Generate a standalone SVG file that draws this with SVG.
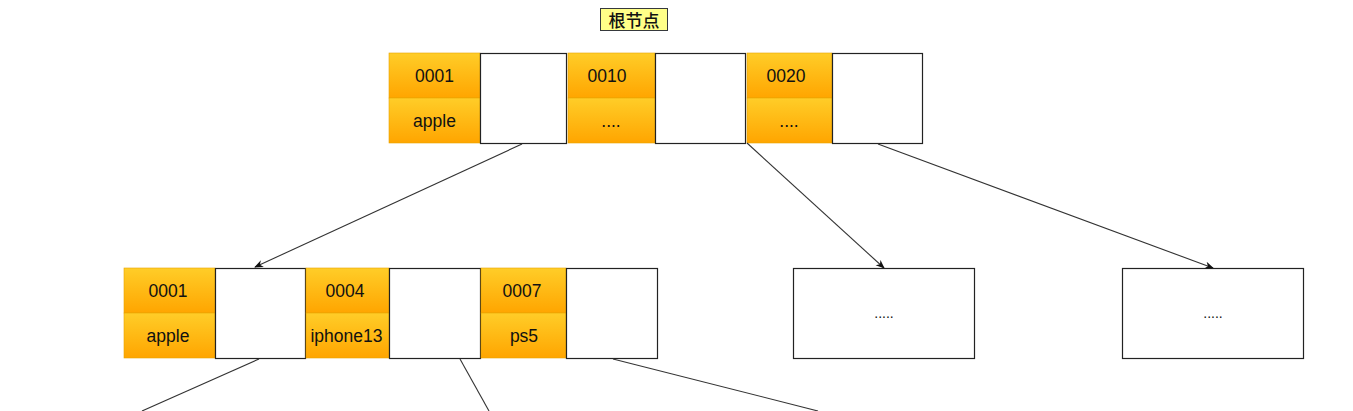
<svg xmlns="http://www.w3.org/2000/svg" width="1353" height="411" viewBox="0 0 1353 411">
<style>
.k{fill:url(#og);stroke:#e6a300;stroke-width:0.6}
.w{fill:#fff;stroke:#222;stroke-width:1.2}
.t{font-family:"Liberation Sans",Arial,sans-serif;font-size:17.5px;fill:#111;text-anchor:middle;dominant-baseline:central}
.c{stroke:#333;stroke-width:1.1;fill:none}
</style>
<defs>
<linearGradient id="og" x1="0" y1="0" x2="0" y2="1">
<stop offset="0" stop-color="#ffcd28"/>
<stop offset="1" stop-color="#ffa500"/>
</linearGradient>
<marker id="ar" viewBox="0 0 10 10" refX="9" refY="5" markerWidth="9" markerHeight="9" markerUnits="userSpaceOnUse" orient="auto">
<path d="M0,1 L10,5 L0,9 L3,5 Z" fill="#111"/>
</marker>
</defs>
<rect width="1353" height="411" fill="#fff"/>
<g id="label-root">
<rect x="600.5" y="8.5" width="67" height="22" fill="#ffff88" stroke="#36393d" stroke-width="1"/>
<text x="634" y="19.5" class="t" style="font-family:'Noto Sans CJK SC',sans-serif;font-size:17px;font-weight:500">根节点</text>
</g>
<g id="root">
<rect x="389" y="53" width="91" height="45" class="k"/>
<rect x="389" y="98" width="91" height="45" class="k"/>
<text x="434.5" y="75.5" class="t">0001</text>
<text x="434.5" y="120.5" class="t">apple</text>
<rect x="480.5" y="53.5" width="86" height="90" class="w"/>
<rect x="568" y="53" width="87" height="45" class="k"/>
<rect x="568" y="98" width="87" height="45" class="k"/>
<text x="607" y="75.5" class="t">0010</text>
<text x="611" y="120.5" class="t">....</text>
<rect x="655.5" y="53.5" width="90" height="90" class="w"/>
<rect x="747" y="53" width="85" height="45" class="k"/>
<rect x="747" y="98" width="85" height="45" class="k"/>
<text x="786" y="75.5" class="t">0020</text>
<text x="789" y="120.5" class="t">....</text>
<rect x="832.5" y="53.5" width="90" height="90" class="w"/>
</g>
<g id="child1">
<rect x="124" y="268" width="91" height="45" class="k"/>
<rect x="124" y="313" width="91" height="45" class="k"/>
<text x="168" y="291" class="t">0001</text>
<text x="168" y="335.5" class="t">apple</text>
<rect x="215.5" y="268.5" width="90" height="90" class="w"/>
<rect x="306" y="268" width="83" height="45" class="k"/>
<rect x="306" y="313" width="83" height="45" class="k"/>
<text x="345" y="291" class="t">0004</text>
<text x="346.5" y="335.5" class="t">iphone13</text>
<rect x="389.5" y="268.5" width="91" height="90" class="w"/>
<rect x="481" y="268" width="85" height="45" class="k"/>
<rect x="481" y="313" width="85" height="45" class="k"/>
<text x="522" y="291" class="t">0007</text>
<text x="524" y="335.5" class="t">ps5</text>
<rect x="566.5" y="268.5" width="91" height="90" class="w"/>
</g>
<g id="child2">
<rect x="793.5" y="268.5" width="181" height="90" class="w"/>
<text x="884" y="313" class="t" style="font-size:14px">.....</text>
</g>
<g id="child3">
<rect x="1122.5" y="268.5" width="181" height="90" class="w"/>
<text x="1213" y="313" class="t" style="font-size:14px">.....</text>
</g>
<g id="connectors">
<line x1="522" y1="144" x2="255" y2="267" class="c" marker-end="url(#ar)"/>
<line x1="747" y1="143" x2="884" y2="268" class="c" marker-end="url(#ar)"/>
<line x1="878" y1="144" x2="1213" y2="268" class="c" marker-end="url(#ar)"/>
<line x1="259" y1="359" x2="142" y2="411" class="c"/>
<line x1="460" y1="359" x2="489" y2="411" class="c"/>
<line x1="613" y1="359" x2="818" y2="411" class="c"/>
</g>
</svg>
